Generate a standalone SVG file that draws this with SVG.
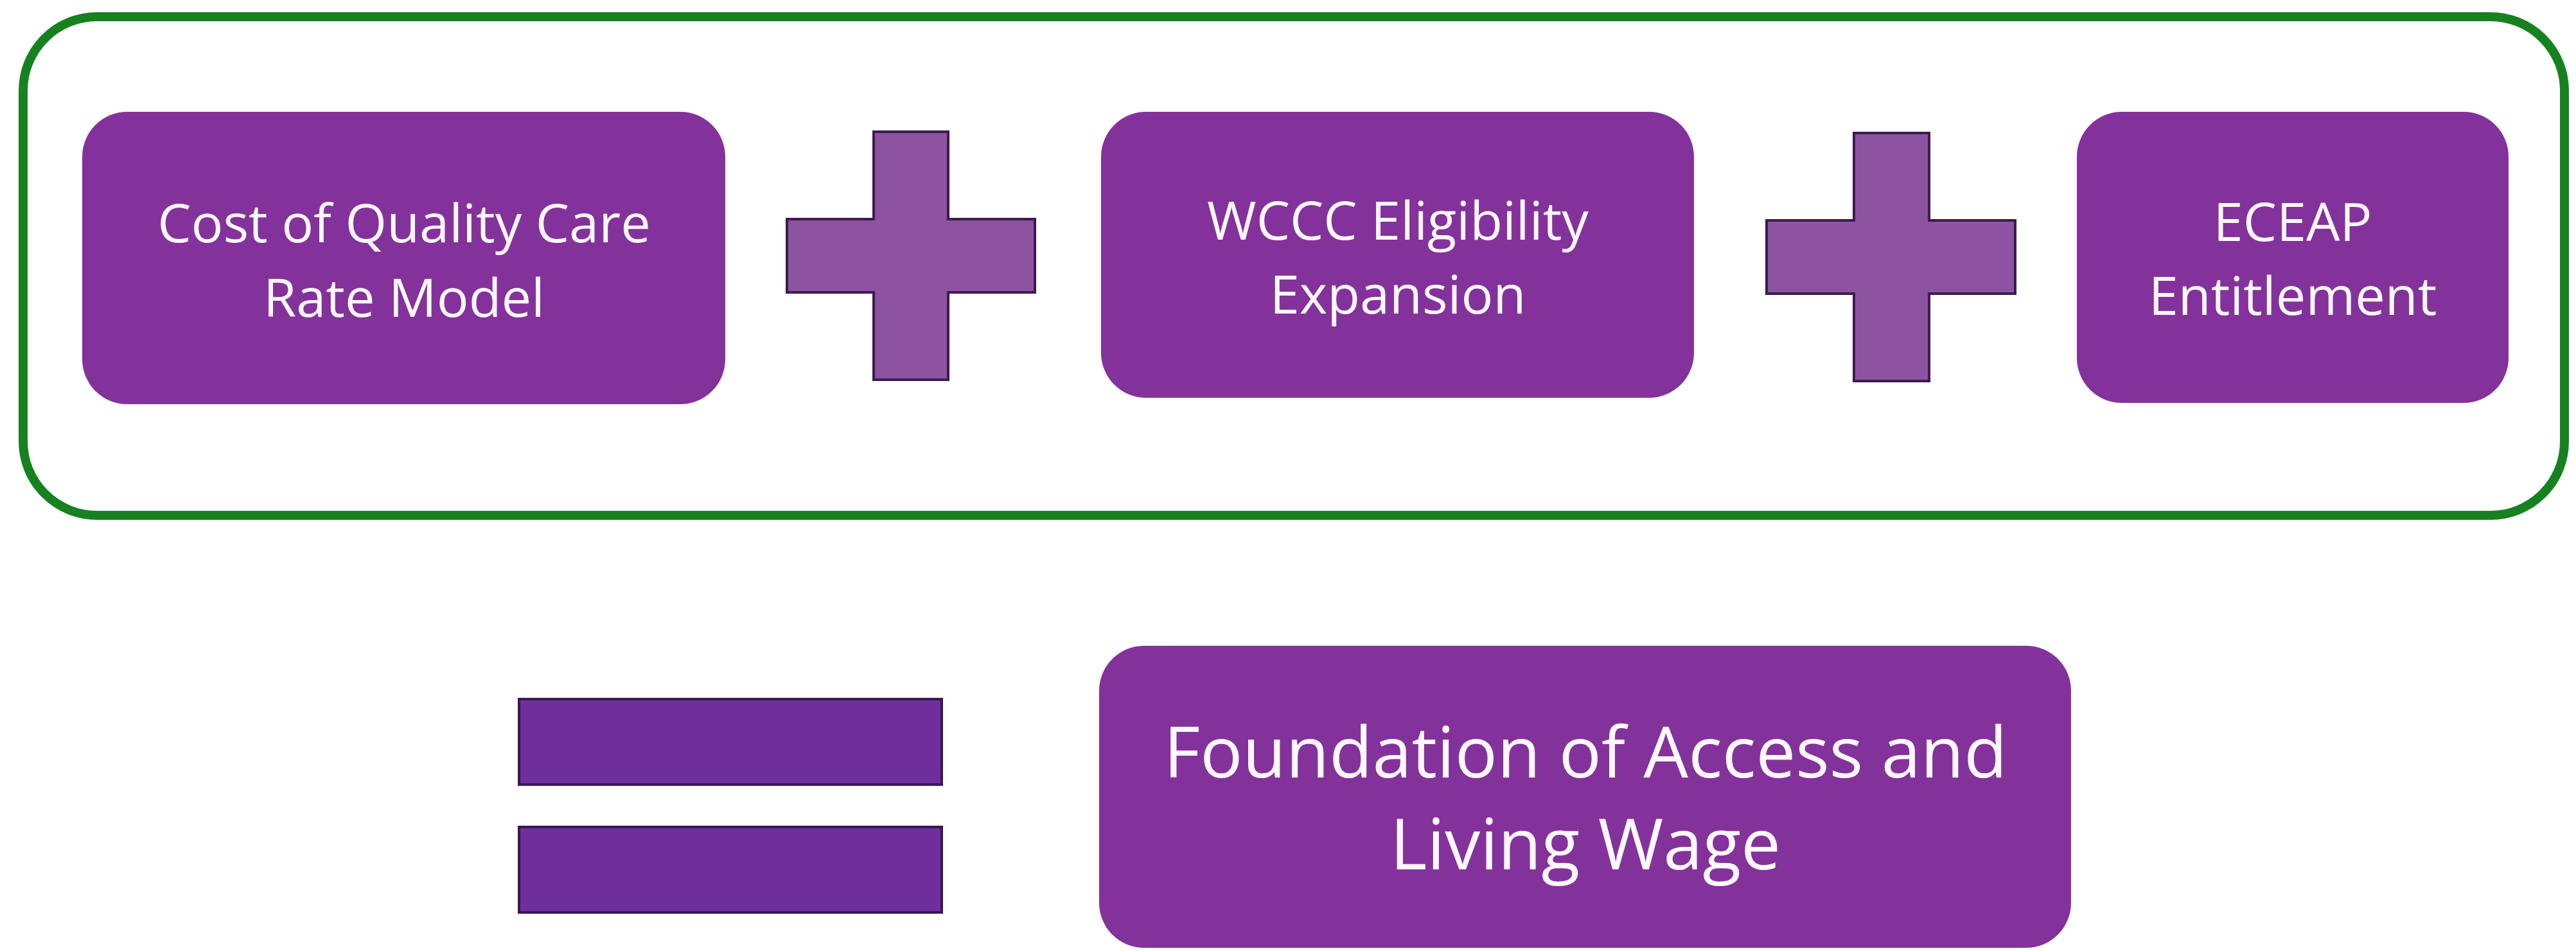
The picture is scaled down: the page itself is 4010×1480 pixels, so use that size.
<svg xmlns="http://www.w3.org/2000/svg" width="4010" height="1480" viewBox="0 0 4010 1480">
  <style>
    .box { fill: #84329b; }
    .plus { fill: #8b53a0; stroke: #3f1a4e; stroke-width: 4; }
    .eq { fill: #6e2e9c; stroke: #3a1656; stroke-width: 4; }
    .lbl { font-family: "Open Sans", "Noto Sans", "DejaVu Sans", sans-serif; fill: #fff8ff; text-anchor: middle; }
    .small { font-size: 83px; }
    .big { font-size: 110px; }
  </style>
  <rect width="4010" height="1480" fill="#ffffff"/>
  <g id="container">
    <rect x="36" y="26" width="3956" height="776" rx="115" ry="115" fill="none" stroke="#16821f" stroke-width="14"/>
  </g>
  <g id="node-cost-of-quality-care">
    <rect class="box" x="128" y="174" width="1001" height="455" rx="70" ry="70"/>
    <text class="lbl small" x="629" y="377">Cost of Quality Care</text>
    <text class="lbl small" x="629" y="493">Rate Model</text>
  </g>
  <g id="node-wccc-eligibility">
    <rect class="box" x="1714" y="174" width="923" height="445" rx="70" ry="70"/>
    <text class="lbl small" x="2176" y="373">WCCC Eligibility</text>
    <text class="lbl small" x="2176" y="488">Expansion</text>
  </g>
  <g id="node-eceap-entitlement">
    <rect class="box" x="3233" y="174" width="672" height="453" rx="70" ry="70"/>
    <text class="lbl small" x="3569" y="375">ECEAP</text>
    <text class="lbl small" x="3569" y="490">Entitlement</text>
  </g>
  <g id="node-foundation">
    <rect class="box" x="1711" y="1005" width="1513" height="470" rx="70" ry="70"/>
    <text class="lbl big" x="2468" y="1210">Foundation of Access and</text>
    <text class="lbl big" x="2468" y="1353">Living Wage</text>
  </g>
  <g id="connectors">
    <g id="plus-1">
      <path class="plus" d="M1360 205 H1476 V341 H1611 V455 H1476 V591 H1360 V455 H1225 V341 H1360 Z"/>
    </g>
    <g id="plus-2">
      <path class="plus" d="M2886 207 H3003 V343 H3137 V457 H3003 V593 H2886 V457 H2750 V343 H2886 Z"/>
    </g>
    <g id="equals">
      <rect class="eq" x="808" y="1088" width="658" height="133"/>
      <rect class="eq" x="808" y="1287" width="658" height="133"/>
    </g>
  </g>
</svg>
